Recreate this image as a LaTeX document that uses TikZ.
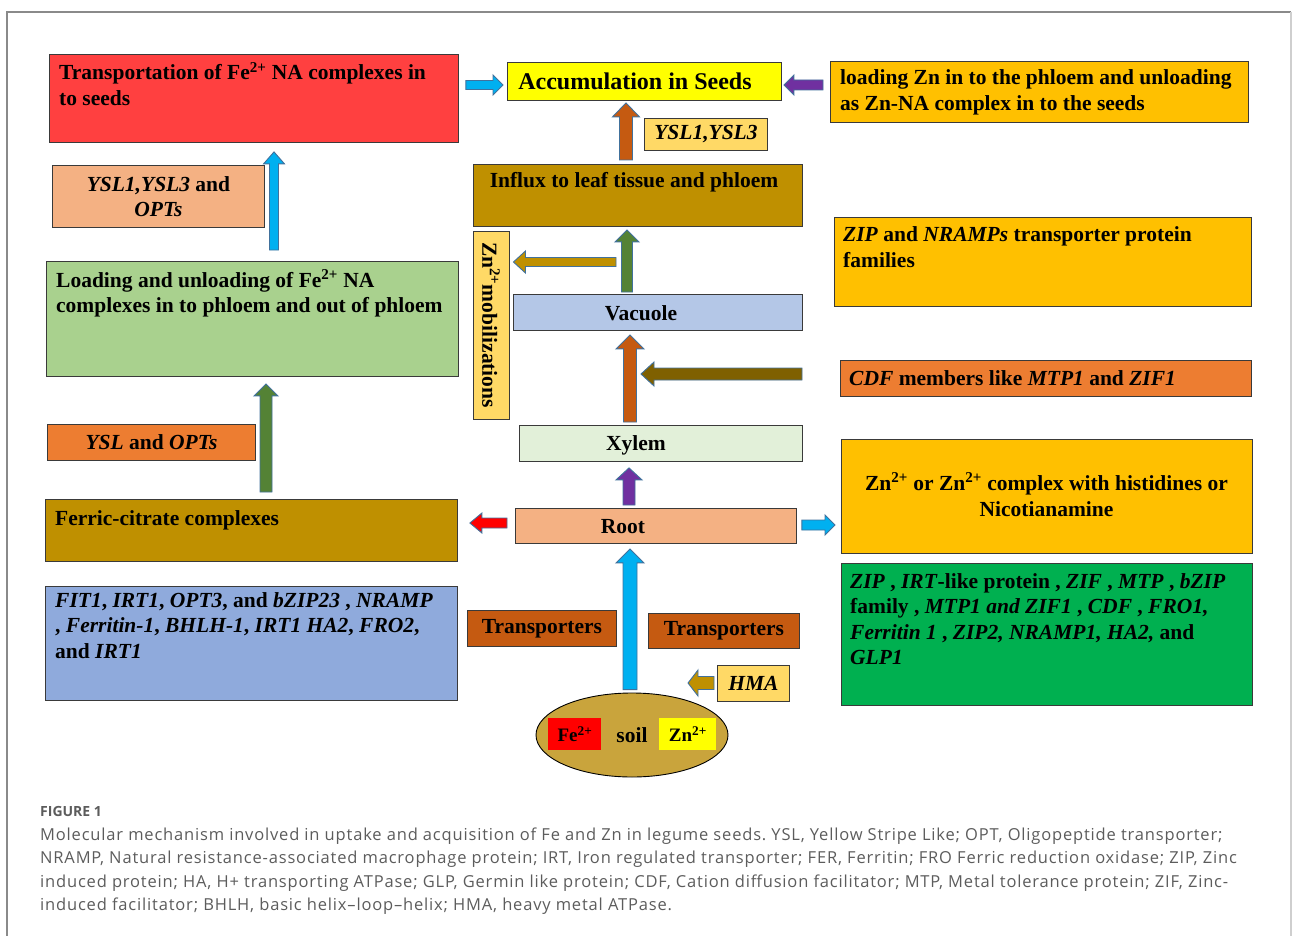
\documentclass[tikz,border=0pt]{standalone}
\usepackage{fontspec}
\setmainfont{Liberation Serif}
\newfontfamily\capfont[LetterSpace=5]{Open Sans}
\newfontfamily\figfont{Open Sans}
\usetikzlibrary{calc,shapes.geometric}
\frenchspacing
\definecolor{boxline}{HTML}{3A3A3A}
\definecolor{arrowline}{HTML}{41719C}
\definecolor{framecol}{HTML}{8A8A8A}
\definecolor{framelight}{HTML}{CFCFCF}
\definecolor{capcol}{HTML}{5C5C5C}
\definecolor{cRed}{HTML}{FF4040}
\definecolor{cSalmon}{HTML}{F4B183}
\definecolor{cYellow}{HTML}{FFFF00}
\definecolor{cGold}{HTML}{FFC000}
\definecolor{cOchre}{HTML}{BF9000}
\definecolor{cPale}{HTML}{FFD966}
\definecolor{cLGreen}{HTML}{A9D18E}
\definecolor{cOrange}{HTML}{ED7D31}
\definecolor{cLBlue}{HTML}{B4C7E7}
\definecolor{cMint}{HTML}{E2F0D9}
\definecolor{cBlue}{HTML}{8FAADC}
\definecolor{cGreen}{HTML}{00B050}
\definecolor{cRust}{HTML}{C55A11}
\definecolor{cSoil}{HTML}{C9A43C}
\definecolor{cPure}{HTML}{FF0000}
\definecolor{aBlue}{HTML}{00B0F0}
\definecolor{aGreen}{HTML}{548235}
\definecolor{aPurple}{HTML}{7030A0}
\definecolor{aOlive}{HTML}{7F6000}
\newcommand\bxfont{\fontsize{21.5}{25.5}\selectfont\bfseries}
\newcommand\capsize{\capfont\fontsize{16.5}{20}\selectfont\color{capcol}}
\def\aw{5pt}\def\ahw{11pt}\def\ahl{12pt}
\newcommand\blockarrow[3]{%
  \path #2 coordinate (ba-s) #3 coordinate (ba-e);
  \draw[barrow,#1] let \p1=(ba-s), \p2=(ba-e),
        \n1={veclen(\x2-\x1,\y2-\y1)},
        \n2={(\x2-\x1)/\n1}, \n3={(\y2-\y1)/\n1} in
    ({\x1-(\n3)*\aw}, {\y1+(\n2)*\aw})
    -- ({\x2-(\n2)*\ahl-(\n3)*\aw}, {\y2-(\n3)*\ahl+(\n2)*\aw})
    -- ({\x2-(\n2)*\ahl-(\n3)*\ahw}, {\y2-(\n3)*\ahl+(\n2)*\ahw})
    -- (\x2,\y2)
    -- ({\x2-(\n2)*\ahl+(\n3)*\ahw}, {\y2-(\n3)*\ahl-(\n2)*\ahw})
    -- ({\x2-(\n2)*\ahl+(\n3)*\aw}, {\y2-(\n3)*\ahl-(\n2)*\aw})
    -- ({\x1+(\n3)*\aw}, {\y1-(\n2)*\aw}) -- cycle;}
\begin{document}
\begin{tikzpicture}[x=1pt,y=-1pt,
  box/.style={draw=boxline, line width=0.9pt, inner sep=0pt, anchor=north west, font=\bxfont, align=center},
  tx/.style={inner sep=0pt, font=\bxfont, align=left, anchor=base west},
  captxt/.style={inner sep=0pt, anchor=base west, font=\capsize},
  aw/.store in=\aw, ahw/.store in=\ahw, ahl/.store in=\ahl,
  barrow/.style={draw=arrowline, line width=0.9pt, line join=miter}
]
\useasboundingbox (0,0) rectangle (1293,936);
% frame
\draw[framecol, line width=1.2pt] (7,936) -- (7,12) -- (1291,12);
\draw[framelight, line width=1.2pt] (1291,12) -- (1291,936);

% ---------- boxes (multi-line texts are placed by the baseline of their last line) ----------
\node[box, fill=cRed, minimum width=409pt, minimum height=88pt] (red) at (49,54) {};
\node[tx] at (59,105.5) {Transportation of Fe\textsuperscript{2+} NA complexes in\\to seeds};

\node[box, fill=cSalmon, minimum width=212pt, minimum height=62pt] (ysla) at (52,165) {\textit{YSL1,YSL3} and\\\textit{OPTs}};

\node[box, fill=cYellow, minimum width=274pt, minimum height=38pt] (acc) at (507,62) {};
\node[tx, anchor=base, font=\fontsize{24}{28}\selectfont\bfseries] at (635,90) {Accumulation in Seeds};

\node[box, fill=cGold, minimum width=418pt, minimum height=61pt] (loadzn) at (830,61) {};
\node[tx] at (840,110.5) {loading Zn in to the phloem and unloading\\as Zn-NA complex in to the seeds};

\node[box, fill=cPale, minimum width=123pt, minimum height=32pt] (yslb) at (644,118) {\textit{YSL1,YSL3}};

\node[box, fill=cOchre, minimum width=329pt, minimum height=62pt] (influx) at (473,164) {};
\node[tx, anchor=base] at (634,188) {Influx to leaf tissue and phloem};

\node[box, fill=cGold, minimum width=417pt, minimum height=89pt] (zipn) at (834,217) {};
\node[tx] at (843,267.5) {\textit{ZIP} and \textit{NRAMPs} transporter protein\\families};

\node[box, fill=cPale, anchor=center, rotate=-90, minimum width=188pt, minimum height=36pt] (mob) at (491,325) {Zn\textsuperscript{2+}mobilizations};

\node[box, fill=cLGreen, minimum width=412pt, minimum height=115pt] (loadfe) at (46,261) {};
\node[tx] at (56,312.5) {Loading and unloading of Fe\textsuperscript{2+} NA\\complexes in to phloem and out of phloem};

\node[box, fill=cLBlue, minimum width=289pt, minimum height=36pt] (vac) at (513,294) {};
\node[tx, anchor=base] at (641,320) {Vacuole};

\node[box, fill=cOrange, minimum width=411pt, minimum height=36pt] (cdf) at (840,360) {};
\node[tx] at (849,385) {\textit{CDF} members like \textit{MTP1} and \textit{ZIF1}};

\node[box, fill=cOrange, minimum width=208pt, minimum height=36pt] (yslopt) at (47,424) {\textit{YSL} and \textit{OPTs}};

\node[box, fill=cMint, minimum width=283pt, minimum height=36pt] (xylem) at (519,425) {};
\node[tx, anchor=base] at (636,450) {Xylem};

\node[box, fill=cGold, minimum width=411pt, minimum height=114pt] (znbox) at (841,439) {};
\node[tx, anchor=base, align=center] at (1046.5,516) {Zn\textsuperscript{2+} or Zn\textsuperscript{2+} complex with histidines or\\Nicotianamine};

\node[box, fill=cOchre, minimum width=412pt, minimum height=62pt] (fc) at (45,499) {};
\node[tx] at (55,525) {Ferric-citrate complexes};

\node[box, fill=cSalmon, minimum width=281pt, minimum height=35pt] (root) at (515,508) {};
\node[tx, anchor=base] at (623,533) {Root};

\node[box, fill=cGreen, minimum width=411pt, minimum height=142pt] (znlist) at (841,563) {};
\node[tx] at (850,664.5) {\textit{ZIP} , \textit{IRT}-like protein , \textit{ZIF} , \textit{MTP} , \textit{bZIP}\\family , \textit{MTP1 and ZIF1} , \textit{CDF} , \textit{FRO1,}\\\textit{Ferritin 1} , \textit{ZIP2, NRAMP1, HA2,} and\\\textit{GLP1}};

\node[box, fill=cBlue, minimum width=412pt, minimum height=114pt] (felist) at (45,586) {};
\node[tx] at (55,658) {\textit{FIT1}, \textit{IRT1}, \textit{OPT3}, and \textit{bZIP23} , \textit{NRAMP}\\, \textit{Ferritin-1}, \textit{BHLH-1}, \textit{IRT1 HA2}, \textit{FRO2},\\and \textit{IRT1}};

\node[box, fill=cRust, minimum width=149pt, minimum height=36pt] (tra) at (467,610) {Transporters};
\node[box, fill=cRust, minimum width=151pt, minimum height=35pt] (trb) at (648,613) {Transporters};
\node[box, fill=cPale, minimum width=72pt, minimum height=36pt] (hma) at (717,665) {\textit{HMA}};

\node[ellipse, draw=black, line width=0.9pt, fill=cSoil, inner sep=0pt, minimum width=192pt, minimum height=84pt, font=\bxfont] (soil) at (632,735) {soil};
\node[box, draw=none, fill=cPure, minimum width=53pt, minimum height=32pt, font=\fontsize{19}{22}\selectfont\bfseries] (fe) at (548,718) {Fe\textsuperscript{2+}};
\node[box, draw=none, fill=cYellow, minimum width=57pt, minimum height=32pt, font=\fontsize{19}{22}\selectfont\bfseries] (zn) at (659,718) {Zn\textsuperscript{2+}};

% ---------- arrow columns / rows ----------
\path (274,0) coordinate (cB) (266,0) coordinate (cA) (626,0) coordinate (cC)
      (627,0) coordinate (cD) (630,0) coordinate (cE) (629,0) coordinate (cF)
      (0,85) coordinate (rA) (0,262) coordinate (rB) (0,374) coordinate (rC)
      (0,523) coordinate (rD) (0,525) coordinate (rE) (0,683) coordinate (rF);
\coordinate (mobsrc) at (616,262);
\coordinate (cdftip) at (641,374);

% ---------- block arrows ----------
\blockarrow{fill=aBlue, aw=4.5pt, ahw=10.5pt, ahl=12pt}{($(loadfe.north -| cB)+(0pt,11pt)$)}{($(red.south -| cB)+(0pt,-9pt)$)}
\blockarrow{fill=aBlue, aw=4.5pt, ahw=10pt, ahl=10pt}{($(red.east |- rA)+(7pt,0pt)$)}{($(acc.west |- rA)+(-4pt,0pt)$)}
\blockarrow{fill=aPurple, aw=5pt, ahw=10pt, ahl=10pt}{($(loadzn.west |- rA)+(-7pt,0pt)$)}{($(acc.east |- rA)+(2pt,0pt)$)}
\blockarrow{fill=cRust, aw=6.5pt, ahw=13.5pt, ahl=14pt}{($(influx.north -| cC)+(0pt,4pt)$)}{($(acc.south -| cC)+(0pt,-2pt)$)}
\blockarrow{fill=aGreen, aw=5.5pt, ahw=12pt, ahl=12pt}{($(vac.north -| cD)+(0pt,2pt)$)}{($(influx.south -| cD)+(0pt,-3pt)$)}
\blockarrow{fill=cOchre, aw=4.5pt, ahw=11pt, ahl=12pt}{(mobsrc)}{($(mob.north |- rB)+(4pt,0pt)$)}
\blockarrow{fill=cRust, aw=6.5pt, ahw=14pt, ahl=14pt}{($(xylem.north -| cE)+(0pt,3pt)$)}{($(vac.south -| cE)+(0pt,-4pt)$)}
\blockarrow{fill=aOlive, aw=6pt, ahw=12pt, ahl=13pt}{($(cdf.west |- rC)+(-38pt,0pt)$)}{(cdftip)}
\blockarrow{fill=aPurple, aw=6pt, ahw=13pt, ahl=12pt}{($(root.north -| cF)+(0pt,3pt)$)}{($(xylem.south -| cF)+(0pt,-6pt)$)}
\blockarrow{fill=cPure, aw=5pt, ahw=10pt, ahl=12pt}{($(root.west |- rD)+(-8pt,0pt)$)}{($(fc.east |- rD)+(12pt,0pt)$)}
\blockarrow{fill=aBlue, aw=5pt, ahw=10pt, ahl=10pt}{($(root.east |- rE)+(5pt,0pt)$)}{($(znbox.west |- rE)+(-6pt,0pt)$)}
\blockarrow{fill=aBlue, aw=7pt, ahw=14pt, ahl=14pt}{($(soil.north -| cE)+(0pt,3pt)$)}{($(root.south -| cE)+(0pt,-5pt)$)}
\blockarrow{fill=cOchre, aw=6.5pt, ahw=13pt, ahl=10pt}{($(hma.west |- rF)+(-3pt,0pt)$)}{($(hma.west |- rF)+(-29pt,0pt)$)}
\blockarrow{fill=aGreen, aw=6pt, ahw=12pt, ahl=12pt}{($(fc.north -| cA)+(0pt,7pt)$)}{($(loadfe.south -| cA)+(0pt,-7pt)$)}

% ---------- caption ----------
\node[captxt, font=\figfont\fontsize{14}{16}\selectfont\bfseries\color{capcol}] (figlabel) at (40,816) {FIGURE 1};
\node[captxt] (capa) at (40,840) {Molecular mechanism involved in uptake and acquisition of Fe and Zn in legume seeds. YSL, Yellow Stripe Like; OPT, Oligopeptide transporter;};
\node[captxt] (capb) at (40,863.5) {NRAMP, Natural resistance-associated macrophage protein; IRT, Iron regulated transporter; FER, Ferritin; FRO Ferric reduction oxidase; ZIP, Zinc};
\node[captxt] (capc) at (40,887) {induced protein; HA, H+ transporting ATPase; GLP, Germin like protein; CDF, Cation diffusion facilitator; MTP, Metal tolerance protein; ZIF, Zinc-};
\node[captxt] (capd) at (40,910.5) {induced facilitator; BHLH, basic helix–loop–helix; HMA, heavy metal ATPase.};
\end{tikzpicture}
\end{document}
